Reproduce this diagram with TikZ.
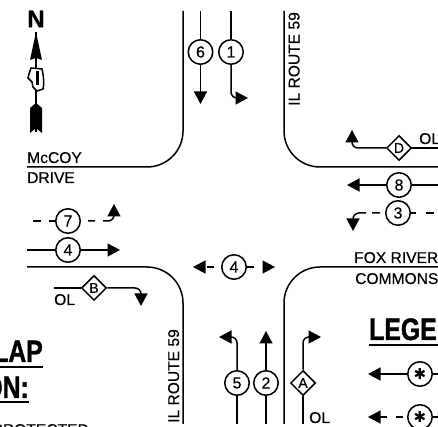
\documentclass[tikz,border=0pt]{standalone}
\usepackage{fontspec}
\setmainfont[FakeBold=0.35]{Liberation Sans}
\newfontfamily\headfont[FakeStretch=0.8,FakeBold=1.2]{Liberation Sans Bold}
\newfontfamily\northfont[FakeBold=1]{Liberation Sans Bold}
\newfontfamily\starfont{DejaVu Sans}
\usetikzlibrary{arrows.meta,shapes.geometric}
\tikzset{
  road/.style={line width=1.5pt,rounded corners=36pt},
  flow/.style={line width=1.5pt},
  flowtip/.style={flow,rounded corners=6pt,-{Triangle[length=12.5pt,width=13pt]}},
  phase/.style={circle,draw,line width=1.5pt,minimum size=24.5pt,inner sep=0pt,font=\fontsize{16}{16}\selectfont},
  olap/.style={diamond,draw,line width=1.5pt,minimum size=25pt,inner sep=0pt,font=\fontsize{14}{14}\selectfont},
  lbl/.style={inner sep=0pt,font=\fontsize{15.6}{16}\selectfont},
  head/.style={inner sep=0pt,font=\headfont\fontsize{31}{31}\selectfont},
}
\begin{document}
\begin{tikzpicture}[x=1pt,y=1pt]
\path[use as bounding box] (0,0) rectangle (438,427);
% corners of the roads
\coordinate (nwtop) at (183,416); \coordinate (nwend) at (27,260);
\coordinate (netop) at (284,416); \coordinate (neend) at (438,260);
\coordinate (swend) at (27,160); \coordinate (swbot) at (183,3);
\coordinate (seend) at (438,160); \coordinate (sebot) at (284,3);
\draw[road] (nwtop) |- (nwend);
\draw[road] (netop) |- (neend);
\draw[road] (swbot) |- (swend);
\draw[road] (sebot) |- (seend);
% phases
\node[phase] (six) at (200.5,375) {6};
\node[phase] (one) at (231,375) {1};
\node[olap] (olD) at (399,279) {D};
\node[phase] (eight) at (399,242) {8};
\node[phase] (three) at (398,214) {3};
\node[phase] (seven) at (68,206) {7};
\node[phase] (four) at (68,177) {4};
\node[olap] (olB) at (94,139) {B};
\node[phase] (midfour) at (234,160) {4};
\node[phase] (five) at (237,44) {5};
\node[phase] (two) at (266,44) {2};
\node[olap] (olA) at (303,44) {A};
\node[phase] (legsolid) at (420,53) {\starfont\fontsize{15}{15}\selectfont ✱};
\node[phase] (legdash) at (420,10) {\starfont\fontsize{15}{15}\selectfont ✱};
% free ends
\coordinate (sixin) at (200.5,416); \coordinate (sixtip) at (200.5,323);
\coordinate (onein) at (231,416); \coordinate (onetip) at (248,329);
\coordinate (olDin) at (438,279); \coordinate (olDtip) at (352,297);
\coordinate (eightin) at (438,242); \coordinate (eighttip) at (347,242);
\coordinate (threein) at (438,214); \coordinate (threetip) at (353,196);
\coordinate (sevenin) at (33,206); \coordinate (seventip) at (114,223);
\coordinate (fourin) at (27,177); \coordinate (fourtip) at (120,177);
\coordinate (olBin) at (54,139); \coordinate (olBtip) at (141,121);
\coordinate (midleft) at (193,160); \coordinate (midright) at (275,160);
\coordinate (fivein) at (237,3); \coordinate (fivetip) at (219,90);
\coordinate (twoin) at (266,3); \coordinate (twotip) at (266,96);
\coordinate (olAin) at (303,3); \coordinate (olAtip) at (321,90);
\coordinate (legsolidin) at (438,53); \coordinate (legsolidtip) at (368,53);
\coordinate (legdashin) at (438,10); \coordinate (legdashtip) at (368,10);
% movements
\draw[flow] (sixin) -- (six); \draw[flowtip] (six) -- (sixtip);
\draw[flow] (onein) -- (one); \draw[flowtip] (one) |- (onetip);
\draw[flow] (olDin) -- (olD); \draw[flowtip] (olD) -| (olDtip);
\draw[flow] (eightin) -- (eight); \draw[flowtip] (eight) -- (eighttip);
\draw[flow,dash pattern=on 5pt off 10pt on 8pt off 20pt] (three) -- (threein);
\draw[flowtip,dash pattern=on 0pt off 5pt on 8pt off 6pt on 100pt] (three) -| (threetip);
\draw[flow,dash pattern=on 6pt off 8pt on 9pt off 20pt] (seven) -- (sevenin);
\draw[flowtip,dash pattern=on 0pt off 7pt on 7pt off 8pt on 100pt] (seven) -| (seventip);
\draw[flow] (fourin) -- (four); \draw[flowtip] (four) -- (fourtip);
\draw[flow] (olBin) -- (olB); \draw[flowtip] (olB) -| (olBtip);
\draw[flowtip,dash pattern=on 0pt off 7pt on 7pt off 3pt on 100pt] (midfour) -- (midleft);
\draw[flowtip,dash pattern=on 7pt off 9pt on 100pt] (midfour) -- (midright);
\draw[flow] (fivein) -- (five); \draw[flowtip] (five) |- (fivetip);
\draw[flow] (twoin) -- (two); \draw[flowtip] (two) -- (twotip);
\draw[flow] (olAin) -- (olA); \draw[flowtip] (olA) |- (olAtip);
\draw[flow] (legsolidin) -- (legsolid); \draw[flowtip] (legsolid) -- (legsolidtip);
\draw[flow] (legdashin) -- (legdash);
\draw[flowtip,dash pattern=on 0pt off 4pt on 7pt off 9pt on 100pt] (legdash) -- (legdashtip);
% road names
\node[lbl,anchor=base west] (mccoy) at (27,264) {McCOY};
\node[lbl,anchor=base west] (drive) at (27,244) {DRIVE};
\node[lbl,anchor=base west] (foxriver) at (354,164) {FOX RIVER};
\node[lbl,anchor=base west] (commons) at (355,143) {COMMONS};
\node[lbl,anchor=base west,rotate=90] (routeN) at (299.5,321) {IL ROUTE 59};
\node[lbl,anchor=base east,rotate=90] (routeS) at (179,98) {IL ROUTE 59};
\node[lbl,anchor=base west] (olDtext) at (419,283) {OL};
\node[lbl,anchor=base west] (olBtext) at (54,122) {OL};
\node[lbl,anchor=base west] (olAtext) at (309,4) {OL};
% headings, cut off by the edge of the sheet
\node[head,anchor=base east] (lap) at (43,65) {LAP};
\node[head,anchor=base east] (on) at (29,29) {ON:};
\node[head,anchor=base west] (legen) at (369,87) {LEGEN};
\node[lbl,anchor=base east] (prot) at (89,-8) {PROTECTED};
\draw[line width=1.3pt] (0,60) -- (43,60);
\draw[line width=1.3pt] (0,25) -- (29,25);
\draw[line width=1.3pt] (369,82) -- (438,82);
% north arrow
\node[inner sep=0pt,font=\northfont\fontsize{24}{24}\selectfont] (north) at (36,408) {N};
\draw[line width=1.8pt] (36,395) -- (36,295);
\fill (36,395) -- (42,367) -- (36,369) -- (30,367) -- cycle;
\fill (36,324) -- (42,319) -- (42,294) -- (36,299) -- (30,294) -- (30,319) -- cycle;
\draw[line width=1.5pt,fill=white] (31,359) -- (42,358) .. controls (44,350) and (44,342) .. (43,338) -- (37,336) -- (33,340) -- (32,345) -- (28,349) -- (29,353) -- cycle;
\draw[line width=3pt] (37,356) -- (37,342);
\end{tikzpicture}
\end{document}
